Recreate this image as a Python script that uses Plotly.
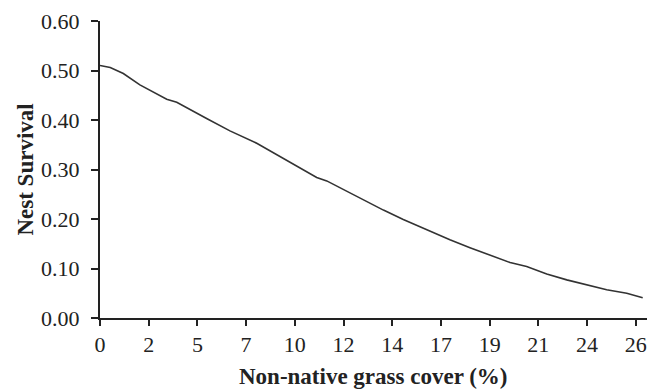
import plotly.graph_objects as go

# Data
cover = [0, 0.5, 1.14, 1.95, 3.26, 3.75, 5.21, 6.35, 7.66, 8.47, 9.61, 10.59, 11.08,
         12.55, 13.85, 14.82, 15.97, 17.1, 18.08, 19.22, 20.04, 20.85, 21.83, 22.81,
         23.79, 24.76, 25.74, 26.52]
survival = [0.510, 0.506, 0.494, 0.471, 0.442, 0.436, 0.403, 0.378, 0.353, 0.334,
            0.307, 0.284, 0.277, 0.245, 0.218, 0.199, 0.178, 0.158, 0.142, 0.125,
            0.112, 0.104, 0.089, 0.077, 0.067, 0.057, 0.050, 0.041]

x_tick_vals = [0, 2.38, 4.76, 7.14, 9.52, 11.9, 14.28, 16.66, 19.04, 21.42, 23.8, 26.18]
x_tick_text = ["0", "2", "5", "7", "10", "12", "14", "17", "19", "21", "24", "26"]
y_tick_vals = [0.0, 0.1, 0.2, 0.3, 0.4, 0.5, 0.6]

x_title = "Non-native grass cover (%)"
y_title = "Nest Survival"

FONT = "Liberation Serif, Times New Roman, serif"
INK = "#222222"

fig = go.Figure()
fig.add_trace(go.Scatter(
    x=cover, y=survival, mode="lines",
    line=dict(color="#333333", width=1.6),
    hoverinfo="skip", showlegend=False,
))

fig.update_layout(
    width=652, height=389,
    margin=dict(l=100, r=5, t=21, b=71, autoexpand=False),
    paper_bgcolor="white", plot_bgcolor="white",
    font=dict(family=FONT, size=22, color=INK),
    xaxis=dict(
        range=[0, 26.73], showgrid=False, zeroline=False, automargin=False,
        showline=True, linecolor=INK, linewidth=2,
        ticks="outside", ticklen=6, tickwidth=2, tickcolor=INK,
        tickvals=x_tick_vals, ticktext=x_tick_text,
        tickfont=dict(family=FONT, size=22, color=INK),
    ),
    yaxis=dict(
        range=[0, 0.6], showgrid=False, zeroline=False, automargin=False,
        showline=True, linecolor=INK, linewidth=2,
        ticks="outside", ticklen=7, tickwidth=2, tickcolor=INK,
        tickvals=y_tick_vals, tickformat=".2f", ticklabelstandoff=7,
        tickfont=dict(family=FONT, size=22, color=INK),
    ),
    annotations=[
        dict(text="<b>" + x_title + "</b>", xref="paper", yref="paper",
             x=0.5, y=-0.198, xanchor="center", yanchor="middle", showarrow=False,
             font=dict(family=FONT, size=23, color=INK)),
        dict(text="<b>" + y_title + "</b>", xref="paper", yref="paper",
             x=-0.137, y=0.5, xanchor="center", yanchor="middle", showarrow=False,
             textangle=-90, font=dict(family=FONT, size=23, color=INK)),
    ],
)

fig.write_html(
    "out.html",
    config={"displayModeBar": False, "staticPlot": True},
    post_script="document.body.style.margin='0';document.body.style.overflow='hidden';",
)
